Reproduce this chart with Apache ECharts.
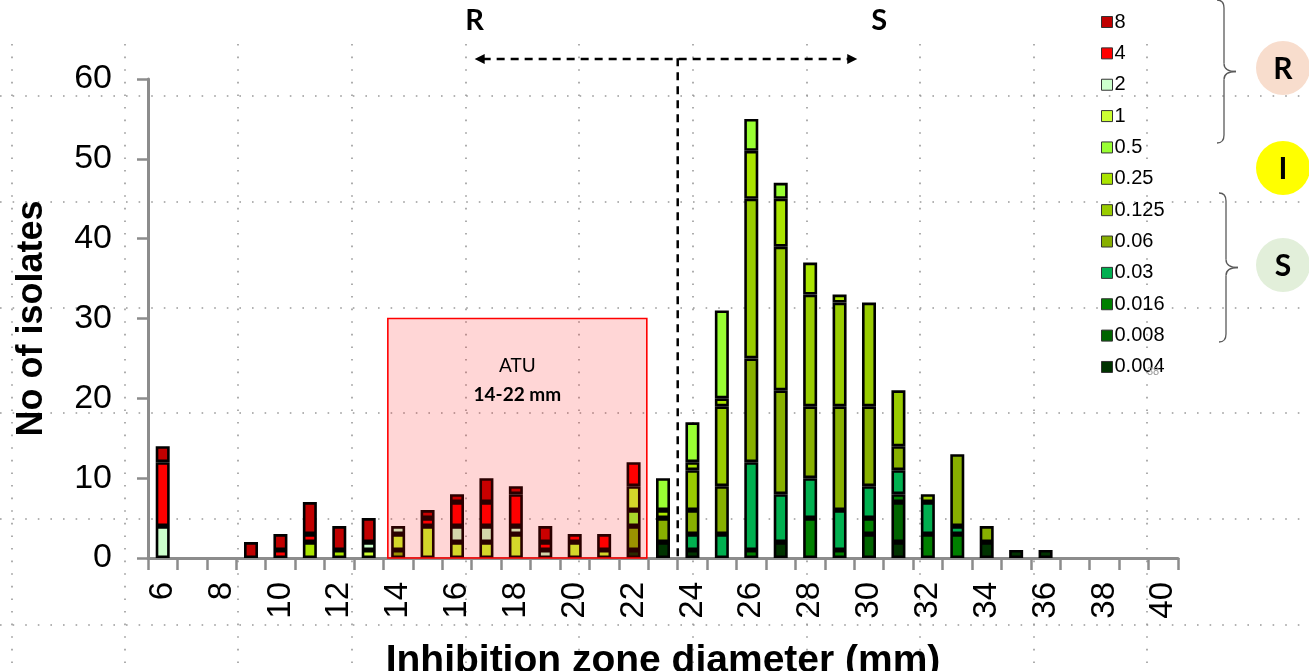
<!DOCTYPE html>
<html><head><meta charset="utf-8">
<script src="https://cdn.jsdelivr.net/npm/echarts@6/dist/echarts.min.js"></script>
<style>html,body{margin:0;padding:0;background:#fff}#c{width:1309px;height:671px}</style>
</head><body><div id="c"></div>
<script>
// Inhibition zone diameter categories (mm)
const categories = ['6','7','8','9','10','11','12','13','14','15','16','17','18','19','20','21','22','23','24','25','26','27','28','29','30','31','32','33','34','35','36','37','38','39','40'];
// MIC legend labels (top to bottom in legend)
const micLabels = ['8','4','2','1','0.5','0.25','0.125','0.06','0.03','0.016','0.008','0.004'];
const micColors = ['#C00000','#FF0000','#CCFFCC','#CCFF33','#99FF33','#AAE400','#99CC00','#88B000','#00B050','#008000','#006400','#003300'];
// number of isolates per zone diameter, per MIC
const mic8    = [2,0,0,2,2,4,3,3,0,1,1,3,1,2,0,0,0,0,0,0,0,0,0,0,0,0,0,0,0,0,0,0,0,0,0];
const mic4    = [8,0,0,0,1,1,0,0,0,1,3,3,4,1,1,2,3,0,0,0,0,0,0,0,0,0,0,0,0,0,0,0,0,0,0];
const mic2    = [4,0,0,0,0,0,0,1,1,0,2,2,1,1,0,0,0,0,0,0,0,0,0,0,0,0,0,0,0,0,0,0,0,0,0];
const mic1    = [0,0,0,0,0,0,0,1,2,4,2,2,3,0,2,1,3,0,0,0,0,0,0,0,0,0,0,0,0,0,0,0,0,0,0];
const mic0_5  = [0,0,0,0,0,0,0,0,0,0,0,0,0,0,0,0,2,4,5,11,4,2,0,0,0,0,0,0,0,0,0,0,0,0,0];
const mic0_25 = [0,0,0,0,0,2,1,0,0,0,0,0,0,0,0,0,0,1,1,1,6,6,4,1,0,0,0,0,0,0,0,0,0,0,0];
const mic0_125= [0,0,0,0,0,0,0,0,0,0,0,0,0,0,0,0,0,0,5,10,20,18,14,13,13,7,1,0,0,0,0,0,0,0,0];
const mic0_06 = [0,0,0,0,0,0,0,0,1,0,0,0,0,0,0,0,3,3,3,6,13,13,9,13,10,3,0,9,2,0,0,0,0,0,0];
const mic0_03 = [0,0,0,0,0,0,0,0,0,0,0,0,0,0,0,0,0,0,2,3,11,6,5,5,4,3,4,1,0,0,0,0,0,0,0];
const mic0_016= [0,0,0,0,0,0,0,0,0,0,0,0,0,0,0,0,0,0,0,0,1,0,5,1,2,1,3,3,0,0,0,0,0,0,0];
const mic0_008= [0,0,0,0,0,0,0,0,0,0,0,0,0,0,0,0,0,0,0,0,0,0,0,0,3,5,0,0,0,0,0,0,0,0,0];
const mic0_004= [0,0,0,0,0,0,0,0,0,0,0,0,0,0,0,0,1,2,1,0,0,2,0,0,0,2,0,0,2,1,1,0,0,0,0];
const micData = [mic8,mic4,mic2,mic1,mic0_5,mic0_25,mic0_125,mic0_06,mic0_03,mic0_016,mic0_008,mic0_004];
const yTicks = [0,10,20,30,40,50,60];
// annotation values (data units)
const breakpoint = 23.5;   // R/S boundary
const atuRange = [13.65, 22.45];
const atuTop = 30;

const chart = echarts.init(document.getElementById('c'));
const series = [];
for (let k = micLabels.length - 1; k >= 0; k--) {
  series.push({
    name: micLabels[k], type: 'bar', stack: 'all', barWidth: 14,
    itemStyle: {color: micColors[k], borderColor: '#000', borderWidth: 2.6},
    data: micData[k].map(v => v === 0 ? null : v)
  });
}
chart.setOption({
  animation: false,
  grid: {left: 148, right: 131, top: 79, bottom: 113, outerBoundsMode: 'none', containLabel: false},
  legend: {
    orient: 'vertical', left: 1096, top: 7, itemGap: 11.36, itemWidth: 11, itemHeight: 11,
    data: micLabels, icon: 'rect',
    itemStyle: {borderColor: '#333', borderWidth: 1},
    textStyle: {fontFamily: 'Liberation Sans', fontSize: 20, color: '#000', lineHeight: 20, padding: [0,0,0,-3]}
  },
  xAxis: [{
    type: 'category', data: categories,
    name: 'Inhibition zone diameter (mm)', nameLocation: 'middle', nameGap: 84,
    nameTextStyle: {fontFamily: 'Liberation Sans', fontWeight: 'bold', fontSize: 39, color: '#000'},
    axisLine: {lineStyle: {color: '#8c8c8c', width: 3}},
    axisTick: {show: true, interval: 0, length: 12, lineStyle: {color: '#8c8c8c', width: 2.5}},
    axisLabel: {interval: 1, rotate: 90, fontFamily: 'Liberation Sans', fontSize: 33, color: '#000', margin: 24},
    splitLine: {show: false}
  }, {
    type: 'value', min: 5.5, max: 40.5, show: false
  }],
  yAxis: {
    type: 'value', min: 0, max: 60, interval: 10,
    name: 'No of isolates', nameLocation: 'middle', nameGap: 98,
    nameTextStyle: {fontFamily: 'Liberation Sans', fontWeight: 'bold', fontSize: 36, color: '#000'},
    axisLine: {show: true, lineStyle: {color: '#8c8c8c', width: 3}},
    axisTick: {show: true, inside: false, length: 11, lineStyle: {color: '#8c8c8c', width: 2.5}},
    axisLabel: {fontFamily: 'Liberation Sans', fontSize: 34, color: '#000', margin: 36,
      formatter: v => yTicks.indexOf(v) >= 0 ? String(v) : ''},
    splitLine: {show: false}
  },
  series: series
});

const px = (x, y) => chart.convertToPixel({xAxisIndex: 1, yAxisIndex: 0}, [x, y]);
const bl = px(atuRange[0], 0), tr = px(atuRange[1], atuTop);
const vTop = px(breakpoint, 62.6), vBot = px(breakpoint, 0);
const aL = px(16.6, 62.5), aR = px(29.6, 62.5);
const rT = px(16.6, 67.3), sT = px(30.35, 67.3);
const atuC = px((atuRange[0] + atuRange[1]) / 2, 0);
const lab = {fontFamily: 'Lato', fontWeight: 'bold', fontSize: 29, fill: '#000'};
const braceStyle = {stroke: '#595959', lineWidth: 1.3, fill: null};
function brace(x, y0, y1, tip) {
  const m = (y0 + y1) / 2;
  return [
    {type: 'bezierCurve', z: 101, shape: {x1: x-7, y1: y0, x2: x, y2: y0+8, cpx1: x, cpy1: y0}, style: braceStyle},
    {type: 'line', z: 101, shape: {x1: x, y1: y0+8, x2: x, y2: m-8}, style: braceStyle},
    {type: 'bezierCurve', z: 101, shape: {x1: x, y1: m-8, x2: tip, y2: m, cpx1: x, cpy1: m}, style: braceStyle},
    {type: 'bezierCurve', z: 101, shape: {x1: tip, y1: m, x2: x, y2: m+8, cpx1: x, cpy1: m}, style: braceStyle},
    {type: 'line', z: 101, shape: {x1: x, y1: m+8, x2: x, y2: y1-8}, style: braceStyle},
    {type: 'bezierCurve', z: 101, shape: {x1: x, y1: y1-8, x2: x-7, y2: y1, cpx1: x, cpy1: y1}, style: braceStyle}
  ];
}
// faint dotted slide guides in the background
const guides = [];
const dotStyle = {stroke: '#9a9a9a', lineWidth: 1.6, lineDash: [1.6, 11]};
[96, 202, 308, 413, 519, 625].forEach(y => guides.push({type: 'line', z: 0, shape: {x1: 0, y1: y, x2: 1309, y2: y}, style: dotStyle}));
[12, 125, 238, 352, 466, 579, 693, 807, 920, 1034, 1147].forEach(x => guides.push({type: 'line', z: 0, shape: {x1: x, y1: 44, x2: x, y2: 671}, style: dotStyle}));

chart.setOption({graphic: guides.concat([
  {type: 'rect', z: 100, shape: {x: bl[0], y: tr[1], width: tr[0]-bl[0], height: bl[1]-tr[1]},
   style: {fill: 'rgba(255,0,0,0.16)', stroke: '#FF0000', lineWidth: 1.6}},
  {type: 'text', z: 101, x: atuC[0], y: 366, style: {text: 'ATU', fontFamily: 'Lato', fontSize: 19, fill: '#000', align: 'center', verticalAlign: 'middle'}},
  {type: 'text', z: 101, x: atuC[0], y: 395, style: {text: '14-22 mm', fontFamily: 'Lato', fontWeight: 'bold', fontSize: 19, fill: '#000', align: 'center', verticalAlign: 'middle'}},
  {type: 'line', z: 101, shape: {x1: vTop[0], y1: vTop[1], x2: vBot[0], y2: vBot[1]},
   style: {stroke: '#000', lineWidth: 2.5, lineDash: [8, 6]}},
  {type: 'line', z: 101, shape: {x1: aL[0]+8, y1: aL[1], x2: aR[0]-8, y2: aR[1]},
   style: {stroke: '#000', lineWidth: 2.5, lineDash: [8, 6]}},
  {type: 'polygon', z: 101, shape: {points: [[aL[0], aL[1]], [aL[0]+10, aL[1]-5], [aL[0]+10, aL[1]+5]]}, style: {fill: '#000'}},
  {type: 'polygon', z: 101, shape: {points: [[aR[0], aR[1]], [aR[0]-10, aR[1]-5], [aR[0]-10, aR[1]+5]]}, style: {fill: '#000'}},
  {type: 'text', z: 101, x: rT[0], y: rT[1], style: Object.assign({text: 'R', align: 'center', verticalAlign: 'middle'}, lab)},
  {type: 'text', z: 101, x: sT[0], y: sT[1], style: Object.assign({text: 'S', align: 'center', verticalAlign: 'middle'}, lab)},
  {type: 'circle', z: 101, shape: {cx: 1283, cy: 68, r: 27}, style: {fill: '#F8DDCD'}},
  {type: 'circle', z: 101, shape: {cx: 1283, cy: 168, r: 27}, style: {fill: '#FFFF00'}},
  {type: 'circle', z: 101, shape: {cx: 1283, cy: 265, r: 27}, style: {fill: '#E2EFDA'}},
  {type: 'text', z: 102, x: 1283, y: 69, style: Object.assign({}, lab, {text: 'R', align: 'center', verticalAlign: 'middle', fontSize: 30})},
  {type: 'text', z: 102, x: 1283, y: 169, style: Object.assign({}, lab, {text: 'I', align: 'center', verticalAlign: 'middle', fontSize: 30})},
  {type: 'text', z: 102, x: 1283, y: 266, style: Object.assign({}, lab, {text: 'S', align: 'center', verticalAlign: 'middle', fontSize: 30})},
  {type: 'text', z: 102, x: 1153, y: 372, style: {text: '38', fontFamily: 'Liberation Sans', fontSize: 11, fill: '#999', align: 'center', verticalAlign: 'middle'}}
]).concat(brace(1224, 0, 143, 1236)).concat(brace(1226, 193, 342, 1238))});
</script></body></html>
